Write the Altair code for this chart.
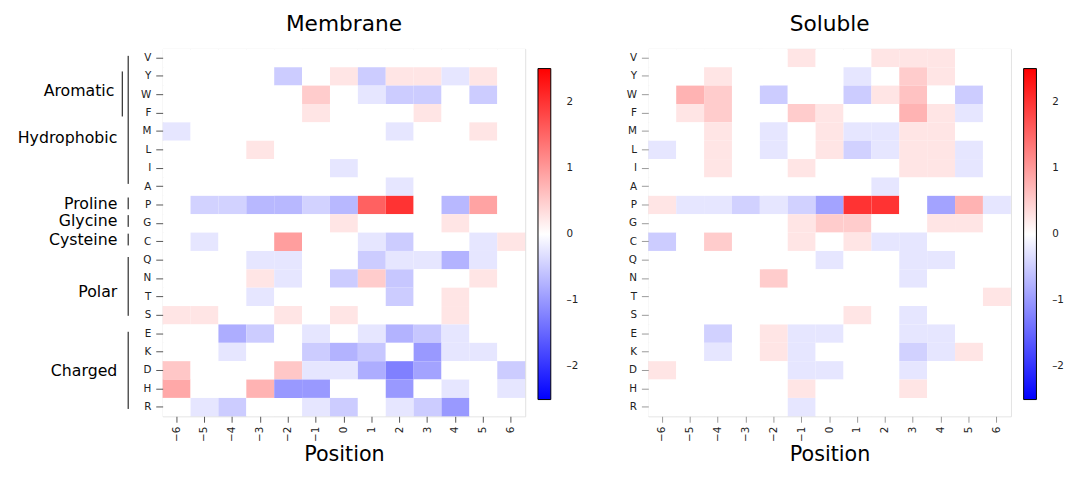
import altair as alt
import pandas as pd

residues = ["V", "Y", "W", "F", "M", "L", "I", "A", "P", "G",
            "C", "Q", "N", "T", "S", "E", "K", "D", "H", "R"]
positions = [-6, -5, -4, -3, -2, -1, 0, 1, 2, 3, 4, 5, 6]

# rows follow `residues`, columns follow `positions`
membrane_values = [
    [0, 0, 0, 0, 0, 0, 0, 0, 0, 0, 0, 0, 0],                                   # V
    [0, 0, 0, 0, -0.5, 0, 0.25, -0.5, 0.25, 0.25, -0.25, 0.25, 0],             # Y
    [0, 0, 0, 0, 0, 0.5, 0, -0.25, -0.5, -0.5, 0, -0.5, 0],                    # W
    [0, 0, 0, 0, 0, 0.25, 0, 0, 0, 0.25, 0, 0, 0],                             # F
    [-0.25, 0, 0, 0, 0, 0, 0, 0, -0.25, 0, 0, 0.25, 0],                        # M
    [0, 0, 0, 0.25, 0, 0, 0, 0, 0, 0, 0, 0, 0],                                # L
    [0, 0, 0, 0, 0, 0, -0.25, 0, 0, 0, 0, 0, 0],                               # I
    [0, 0, 0, 0, 0, 0, 0, 0, -0.25, 0, 0, 0, 0],                               # A
    [0, -0.44, -0.44, -0.7, -0.7, -0.44, -0.7, 1.55, 2.0, 0, -0.7, 0.9, 0],    # P
    [0, 0, 0, 0, 0, 0, 0.25, 0, 0, 0, 0.25, 0, 0],                             # G
    [0, -0.25, 0, 0, 0.95, 0, 0, -0.25, -0.5, 0, 0, -0.25, 0.25],              # C
    [0, 0, 0, -0.25, -0.25, 0, 0, -0.5, -0.25, -0.25, -0.75, -0.25, 0],        # Q
    [0, 0, 0, 0.25, -0.25, 0, -0.5, 0.5, -0.55, 0, 0, 0.25, 0],                # N
    [0, 0, 0, -0.25, 0, 0, 0, 0, -0.5, 0, 0.25, 0, 0],                         # T
    [0.25, 0.25, 0, 0, 0.25, 0, 0.25, 0, 0, 0, 0.25, 0, 0],                    # S
    [0, 0, -0.8, -0.5, 0, -0.25, 0, -0.25, -0.75, -0.55, -0.25, 0, 0],         # E
    [0, 0, -0.25, 0, 0, -0.5, -0.75, -0.55, 0, -1.0, -0.25, -0.25, 0],         # K
    [0.55, 0, 0, 0, 0.55, -0.25, -0.25, -0.8, -1.25, -0.9, 0, 0, -0.5],        # D
    [0.85, 0, 0, 0.75, -1.0, -1.0, 0, 0, -1.0, 0, -0.25, 0, -0.25],            # H
    [0, -0.25, -0.5, 0, 0, -0.25, -0.5, 0, -0.25, -0.5, -1.0, 0, 0],           # R
]

soluble_values = [
    [0, 0, 0, 0, 0, 0.25, 0, 0, 0.25, 0.25, 0.25, 0, 0],                       # V
    [0, 0, 0.25, 0, 0, 0, 0, -0.25, 0, 0.5, 0.25, 0, 0],                       # Y
    [0, 0.75, 0.5, 0, -0.5, 0, 0, -0.5, 0.25, 0.6, 0, -0.5, 0],                # W
    [0, 0.25, 0.5, 0, 0, 0.5, 0.25, 0, 0, 0.75, 0.25, -0.25, 0],               # F
    [0, 0, 0.25, 0, -0.25, 0, 0.25, -0.25, -0.25, 0.25, 0.25, 0, 0],           # M
    [-0.25, 0, 0.25, 0, -0.25, 0, 0.25, -0.45, -0.25, 0.25, 0.25, -0.25, 0],   # L
    [0, 0, 0.25, 0, 0, 0.25, 0, 0, 0, 0.25, 0.25, -0.25, 0],                   # I
    [0, 0, 0, 0, 0, 0, 0, 0, -0.25, 0, 0, 0, 0],                               # A
    [0.25, -0.25, -0.25, -0.45, -0.25, -0.45, -0.9, 2.0, 2.0, 0, -0.9, 0.75, -0.25],  # P
    [0, 0, 0, 0, 0, 0.25, 0.5, 0.5, 0, 0, 0.25, 0.25, 0],                      # G
    [-0.5, 0, 0.5, 0, 0, 0.25, 0, 0.25, -0.25, -0.25, 0, 0, 0],                # C
    [0, 0, 0, 0, 0, 0, -0.25, 0, 0, -0.25, -0.25, 0, 0],                       # Q
    [0, 0, 0, 0, 0.5, 0, 0, 0, 0, -0.25, 0, 0, 0],                             # N
    [0, 0, 0, 0, 0, 0, 0, 0, 0, 0, 0, 0, 0.25],                                # T
    [0, 0, 0, 0, 0, 0, 0, 0.25, 0, -0.25, 0, 0, 0],                            # S
    [0, 0, -0.45, 0, 0.25, -0.25, -0.25, 0, 0, -0.25, -0.25, 0, 0],            # E
    [0, 0, -0.25, 0, 0.25, -0.25, 0, 0, 0, -0.45, -0.25, 0.25, 0],             # K
    [0.25, 0, 0, 0, 0, -0.25, -0.25, 0, 0, -0.25, 0, 0, 0],                    # D
    [0, 0, 0, 0, 0, 0.25, 0, 0, 0, 0.25, 0, 0, 0],                             # H
    [0, 0, 0, 0, 0, -0.25, 0, 0, 0, 0, 0, 0, 0],                               # R
]

group_names = ["Aromatic", "Hydrophobic", "Proline", "Glycine", "Cysteine", "Polar", "Charged"]
group_level = ["inner", "outer", "outer", "outer", "outer", "outer", "outer"]
group_label_row = [1.82, 4.35, 7.95, 8.9, 9.9, 12.75, 17.05]
group_start_row = [0.73, -0.12, 7.59, 8.55, 9.56, 10.83, 14.9]
group_end_row = [3.18, 6.85, 8.23, 9.19, 10.2, 14.03, 19.1]

FONT = "DejaVu Sans"
W, H = 368, 373


def long_table(matrix):
    rows = []
    for r, res in enumerate(residues):
        for c, pos in enumerate(positions):
            rows.append({"res": res, "pos": pos, "val": matrix[r][c]})
    return pd.DataFrame(rows)


groups = pd.DataFrame({
    "name": group_names, "level": group_level, "label": group_label_row,
    "start": group_start_row, "end": group_end_row,
})

color_scale = alt.Scale(domain=[-2.5, 0, 2.5], range=["#0000ff", "#ffffff", "#ff0000"],
                        interpolate="rgb")
row_scale = alt.Scale(domain=[-0.5, 19.5], reverse=True, nice=False, zero=False)


def heat(matrix, tick_color):
    return alt.Chart(long_table(matrix)).mark_rect().encode(
        x=alt.X("pos:O", scale=alt.Scale(domain=positions, paddingInner=0, paddingOuter=0),
                axis=alt.Axis(title="Position", labelAngle=270, labelFontSize=10.5, labelFont=FONT,
                              labelExpr="replace(datum.label, '-', '\u2212')",
                              labelColor="#222", tickSize=6, tickColor=tick_color, domain=False,
                              labelPadding=4, titleFontSize=21, titleFont=FONT,
                              titleFontWeight="normal", titleColor="black", titlePadding=2)),
        y=alt.Y("res:O", scale=alt.Scale(domain=residues, paddingInner=0, paddingOuter=0),
                axis=alt.Axis(title=None, labelFontSize=10.5, labelFont=FONT, labelColor="#222",
                              tickSize=7, tickColor=tick_color, domain=False, labelPadding=5)),
        color=alt.Color("val:Q", scale=color_scale,
                        legend=alt.Legend(title=None, orient="none", legendX=381, legendY=20,
                                          direction="vertical", gradientLength=336,
                                          gradientThickness=13, gradientStrokeColor="black",
                                          gradientStrokeWidth=1, values=[-2, -1, 0, 1, 2],
                                          labelExpr="replace(datum.label, '\u2212', '\u2013')",
                                          labelAlign="center",
                                          labelFontSize=10.5, labelFont=FONT, labelColor="#222",
                                          labelOffset=16)),
    )


def group_layers():
    base = alt.Chart(groups)
    layers = []
    for level, lx, tx in [("inner", -41, -49), ("outer", -35, -46)]:
        sub = base.transform_filter(alt.datum.level == level)
        layers.append(sub.mark_rule(color="black", strokeWidth=1).encode(
            x=alt.value(lx),
            y=alt.Y("start:Q", scale=row_scale, axis=None),
            y2="end:Q",
        ))
        layers.append(sub.mark_text(align="right", baseline="middle", fontSize=16,
                                    font=FONT, color="black").encode(
            x=alt.value(tx),
            y=alt.Y("label:Q", scale=row_scale, axis=None),
            text="name:N",
        ))
    return layers


def title(t):
    return alt.TitleParams(t, fontSize=22, fontWeight="normal", font=FONT, anchor="middle",
                           frame="group", color="black", offset=13)


membrane = alt.layer(heat(membrane_values, "#555555"), *group_layers()).resolve_scale(
    y="independent").properties(width=W, height=H, title=title("Membrane"))
soluble = heat(soluble_values, "#999999").properties(width=W, height=H, title=title("Soluble"))

chart = alt.hconcat(membrane, soluble, spacing=47).resolve_scale(
    color="independent"
).properties(
    padding={"left": 9, "top": 1, "right": 0, "bottom": 0}
).configure_view(stroke="#888888", strokeWidth=1).configure(font=FONT)

chart.save("out.html", embed_options={"renderer": "svg", "actions": False})
